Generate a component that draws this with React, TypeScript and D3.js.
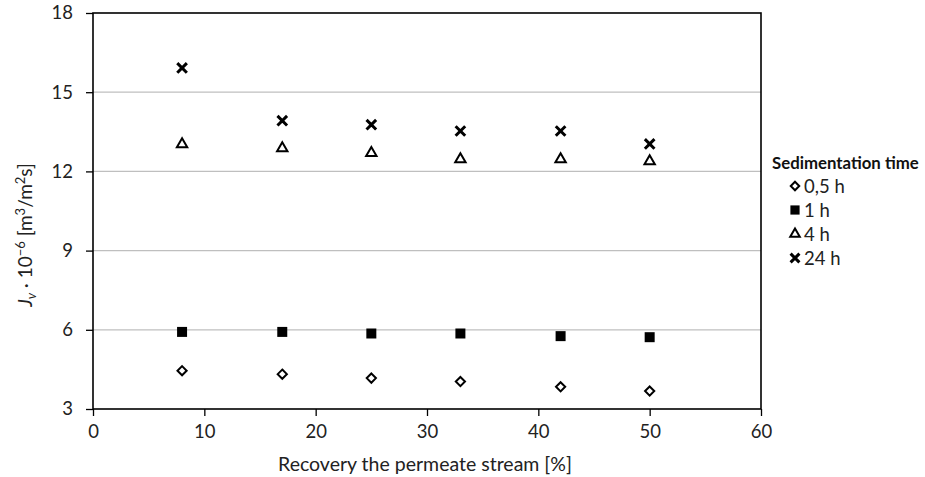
import { useEffect, useRef } from 'react';
import * as d3 from 'd3';

// recovery of the permeate stream [%]
const recovery = [8, 17, 25, 33, 42, 50];

// Jv * 1e-6 [m3/m2s] for each sedimentation time
const halfHour = [4.45, 4.32, 4.17, 4.04, 3.84, 3.68];
const oneHour = [5.92, 5.92, 5.86, 5.86, 5.76, 5.72];
const fourHours = [13.03, 12.88, 12.7, 12.46, 12.46, 12.38];
const dayLong = [15.92, 13.92, 13.77, 13.53, 13.53, 13.04];

const seriesNames = ['0,5 h', '1 h', '4 h', '24 h'];
const xTicks = [0, 10, 20, 30, 40, 50, 60];
const yTicks = [3, 6, 9, 12, 15, 18];

const FONT = 'Lato, "Open Sans", sans-serif';

const symbolPath = (kind: string, r: number) => {
  if (kind === '0,5 h') {
    // diamond2: r = sqrt(size) * 0.62625
    return d3.symbol(d3.symbolDiamond2, Math.pow(r / 0.62625, 2))()!;
  }
  if (kind === '1 h') {
    return d3.symbol(d3.symbolSquare, (r * 2) * (r * 2))()!;
  }
  if (kind === '4 h') {
    return d3.symbol(d3.symbolTriangle2, Math.pow(r / 0.6824, 2))()!;
  }
  return d3.symbol(d3.symbolX, Math.pow(r / 0.6189, 2) + 1.7)()!;
};

const markerStyle: Record<string, { fill: string; stroke: string; sw: number; r: number }> = {
  '0,5 h': { fill: 'white', stroke: 'black', sw: 2, r: 4.6 },
  '1 h': { fill: 'black', stroke: 'none', sw: 0, r: 5 },
  '4 h': { fill: 'white', stroke: 'black', sw: 2, r: 6 },
  '24 h': { fill: 'none', stroke: 'black', sw: 3, r: 4.8 },
};

const buildChart = (node: SVGSVGElement) => {
  const svg = d3.select(node);
  svg.selectAll('*').remove();

  const left = 93, right = 761, top = 13, bottom = 409;

  const x = d3.scaleLinear().domain([0, 60]).range([left, right]);
  const y = d3.scaleLinear().domain([3, 18]).range([bottom, top]);

  // gridlines
  svg.append('g')
    .selectAll('line')
    .data(yTicks.filter((t) => t !== 3 && t !== 18))
    .enter()
    .append('line')
    .attr('x1', left)
    .attr('x2', right)
    .attr('y1', (d) => y(d))
    .attr('y2', (d) => y(d))
    .attr('stroke', '#bfbfbf')
    .attr('stroke-width', 1.3);

  // y axis
  const yAxis = svg.append('g')
    .attr('transform', `translate(${left},0)`)
    .call(d3.axisLeft(y).tickValues(yTicks).tickSize(7).tickPadding(13).tickFormat(d3.format('d')));
  yAxis.select('.domain').remove();
  yAxis.selectAll('line').attr('stroke', '#000').attr('stroke-width', 1.3);
  yAxis.selectAll('text')
    .attr('font-family', FONT)
    .attr('font-size', 18.5)
    .attr('fill', '#222');

  // x axis
  const xAxis = svg.append('g')
    .attr('transform', `translate(0,${bottom})`)
    .call(d3.axisBottom(x).tickValues(xTicks).tickSize(7).tickPadding(9).tickFormat(d3.format('d')));
  xAxis.select('.domain').remove();
  xAxis.selectAll('line').attr('stroke', '#000').attr('stroke-width', 1.3);
  xAxis.selectAll('text')
    .attr('font-family', FONT)
    .attr('font-size', 18.5)
    .attr('fill', '#222');

  // plot frame
  svg.append('rect')
    .attr('x', left)
    .attr('y', top)
    .attr('width', right - left)
    .attr('height', bottom - top)
    .attr('fill', 'none')
    .attr('stroke', '#000')
    .attr('stroke-width', 1.6);

  // markers
  const allSeries = [halfHour, oneHour, fourHours, dayLong];
  allSeries.forEach((vals, si) => {
    const name = seriesNames[si];
    const st = markerStyle[name];
    svg.append('g')
      .selectAll('path')
      .data(vals)
      .enter()
      .append('path')
      .attr('d', symbolPath(name, st.r))
      .attr('transform', (d, i) => `translate(${x(recovery[i])},${y(d)})`)
      .attr('fill', st.fill)
      .attr('stroke', st.stroke)
      .attr('stroke-width', st.sw);
  });

  // axis titles
  svg.append('text')
    .attr('x', 425)
    .attr('y', 471)
    .attr('text-anchor', 'middle')
    .attr('font-family', FONT)
    .attr('font-size', 19.5)
    .attr('fill', '#222')
    .text('Recovery the permeate stream [%]');

  const yt = svg.append('text')
    .attr('transform', 'translate(32,235) rotate(-90)')
    .attr('text-anchor', 'middle')
    .attr('font-family', FONT)
    .attr('font-size', 19)
    .attr('fill', '#222');
  yt.append('tspan').attr('font-style', 'italic').text('J');
  yt.append('tspan').attr('font-style', 'italic').attr('font-size', 13).attr('dy', 4).text('v');
  yt.append('tspan').attr('dy', -4).text(' · 10');
  yt.append('tspan').attr('font-size', 13).attr('dy', -7).text('−6');
  yt.append('tspan').attr('dy', 7).text(' [m');
  yt.append('tspan').attr('font-size', 13).attr('dy', -7).text('3');
  yt.append('tspan').attr('dy', 7).text('/m');
  yt.append('tspan').attr('font-size', 13).attr('dy', -7).text('2');
  yt.append('tspan').attr('dy', 7).text('s]');

  // legend
  const legend = svg.append('g').attr('transform', 'translate(772,0)');
  legend.append('text')
    .attr('x', 0)
    .attr('y', 169)
    .attr('font-family', FONT)
    .attr('font-size', 16.8)
    .attr('font-weight', 'bold')
    .attr('fill', '#111')
    .text('Sedimentation time');

  const items = legend.selectAll('g.item')
    .data(seriesNames)
    .enter()
    .append('g')
    .attr('class', 'item')
    .attr('transform', (d, i) => `translate(0,${186 + i * 24})`);
  items.append('path')
    .attr('d', (d) => symbolPath(d, markerStyle[d].r * 0.92))
    .attr('transform', 'translate(23,0)')
    .attr('fill', (d) => markerStyle[d].fill)
    .attr('stroke', (d) => markerStyle[d].stroke)
    .attr('stroke-width', (d) => markerStyle[d].sw);
  items.append('text')
    .attr('x', 32)
    .attr('y', 6.5)
    .attr('font-family', FONT)
    .attr('font-size', 18.5)
    .attr('fill', '#222')
    .text((d) => d);
};

const App = () => {
  const ref = useRef<SVGSVGElement>(null);

  useEffect(() => {
    if (ref.current) buildChart(ref.current);
  }, []);

  return (
    <svg
      ref={ref}
      width={925}
      height={477}
      style={{ position: 'absolute', left: 0, top: 0, background: 'white' }}
    />
  );
};

export default App;
